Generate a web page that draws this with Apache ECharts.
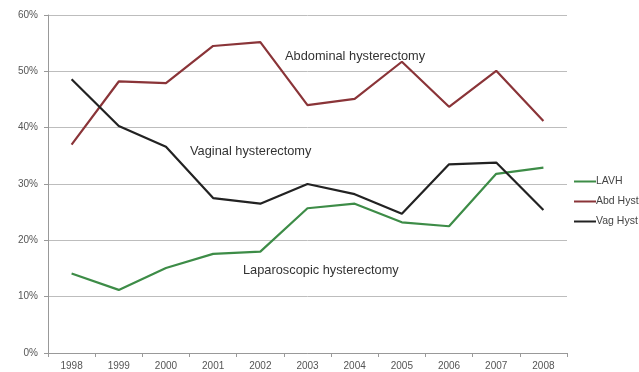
<!DOCTYPE html>
<html>
<head>
<meta charset="utf-8">
<script src="https://cdn.jsdelivr.net/npm/echarts@6/dist/echarts.min.js"></script>
<style>
  html, body { margin: 0; padding: 0; background: #fff; }
  #chart { width: 639px; height: 372px; }
</style>
</head>
<body>
<div id="chart"></div>
<script>
// Share of hysterectomies by approach, 1998-2008 (percent)
const years = ['1998', '1999', '2000', '2001', '2002', '2003', '2004', '2005', '2006', '2007', '2008'];
const lavh = [14.1, 11.2, 15.1, 17.6, 18.0, 25.7, 26.5, 23.2, 22.5, 31.8, 32.9];
const abdHyst = [37.0, 48.2, 47.9, 54.5, 55.2, 44.0, 45.1, 51.7, 43.7, 50.1, 41.2];
const vagHyst = [48.6, 40.3, 36.6, 27.5, 26.5, 30.0, 28.2, 24.7, 33.5, 33.8, 25.4];
const seriesNames = ['LAVH', 'Abd Hyst', 'Vag Hyst'];
const yTicks = [0, 10, 20, 30, 40, 50, 60];

const font = 'Liberation Sans, Arial, sans-serif';
const colors = ['#3d8c47', '#8a3438', '#222222'];

const chart = echarts.init(document.getElementById('chart'), null, { renderer: 'canvas' });

function line(name, data, color) {
  return {
    name, type: 'line', data,
    symbol: 'none',
    lineStyle: { color, width: 2.2 },
    itemStyle: { color },
    animation: false
  };
}

chart.setOption({
  animation: false,
  grid: { left: 48, right: 72, top: 15, bottom: 19, containLabel: false },
  legend: {
    orient: 'vertical',
    left: 569, top: 171,
    itemWidth: 22, itemHeight: 2, itemGap: 9,
    icon: 'rect',
    data: seriesNames,
    textStyle: { fontFamily: font, fontSize: 10.5, color: '#444', padding: [0, 0, 0, -5] }
  },
  xAxis: {
    type: 'category',
    data: years,
    boundaryGap: true,
    axisLine: { lineStyle: { color: '#999', width: 1 } },
    axisTick: { show: true, length: 4, lineStyle: { color: '#999' } },
    axisLabel: { fontFamily: font, fontSize: 10, color: '#555', margin: 8 },
    splitLine: { show: false }
  },
  yAxis: {
    type: 'value',
    min: yTicks[0], max: yTicks[yTicks.length - 1], interval: 10,
    axisLine: { show: true, lineStyle: { color: '#999', width: 1 } },
    axisTick: { show: true, length: 4, lineStyle: { color: '#999' } },
    axisLabel: { fontFamily: font, fontSize: 10, color: '#555', margin: 10, formatter: v => v + '%' },
    splitLine: { lineStyle: { color: '#bdbdbd', width: 1 } }
  },
  graphic: [
    { type: 'text', left: 285, top: 50, style: { text: 'Abdominal hysterectomy', font: '12.8px ' + font, fill: '#333' } },
    { type: 'text', left: 190, top: 145, style: { text: 'Vaginal hysterectomy', font: '12.8px ' + font, fill: '#333' } },
    { type: 'text', left: 243, top: 264, style: { text: 'Laparoscopic hysterectomy', font: '12.8px ' + font, fill: '#333' } }
  ],
  series: [
    line(seriesNames[0], lavh, colors[0]),
    line(seriesNames[1], abdHyst, colors[1]),
    line(seriesNames[2], vagHyst, colors[2])
  ]
});
</script>
</body>
</html>
